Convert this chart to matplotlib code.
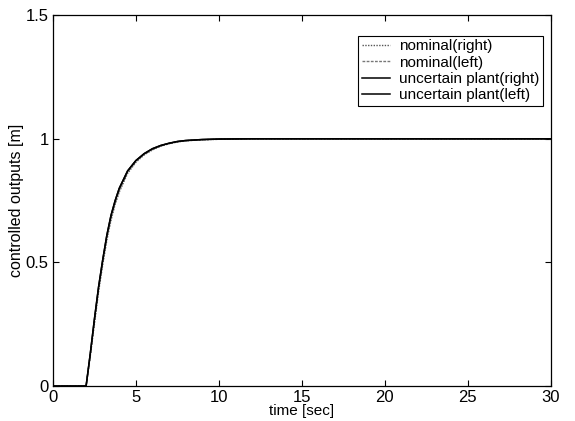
import matplotlib.pyplot as plt

plt.rcParams["font.family"] = ["Liberation Sans", "DejaVu Sans"]

# time axis [sec]
t = [0, 2.0, 2.25, 2.5, 2.75, 3.0, 3.25, 3.5, 3.75, 4.0, 4.5, 5.0, 5.5, 6.0,
     6.5, 7.0, 7.5, 8.0, 9.0, 10.0, 12.0, 15.0, 20.0, 25.0, 30.0]

nominal_right = [0, 0, 0.12, 0.25, 0.38, 0.49, 0.59, 0.67, 0.735, 0.785, 0.86,
                 0.905, 0.935, 0.955, 0.97, 0.98, 0.987, 0.992, 0.996, 0.998,
                 1.0, 1.0, 1.0, 1.0, 1.0]
nominal_left = [0, 0, 0.125, 0.26, 0.39, 0.50, 0.60, 0.68, 0.74, 0.79, 0.865,
                0.908, 0.937, 0.957, 0.971, 0.981, 0.988, 0.992, 0.996, 0.998,
                1.0, 1.0, 1.0, 1.0, 1.0]
uncertain_right = [0, 0, 0.13, 0.27, 0.40, 0.51, 0.61, 0.69, 0.75, 0.80, 0.87,
                   0.912, 0.94, 0.96, 0.973, 0.982, 0.989, 0.993, 0.997, 0.999,
                   1.0, 1.0, 1.0, 1.0, 1.0]
uncertain_left = [0, 0, 0.13, 0.27, 0.40, 0.51, 0.61, 0.69, 0.75, 0.80, 0.87,
                  0.912, 0.94, 0.96, 0.973, 0.982, 0.989, 0.993, 0.997, 0.999,
                  1.0, 1.0, 1.0, 1.0, 1.0]

xticks = [0, 5, 10, 15, 20, 25, 30]
yticks = [0, 0.5, 1, 1.5]
ytick_labels = ["0", "0.5", "1", "1.5"]

fig = plt.figure(figsize=(5.75, 4.21), dpi=100)
ax = fig.add_axes([0.092, 0.083, 0.866, 0.881])

ax.plot(t, nominal_right, color="#555555", linestyle=(0, (1, 1)), linewidth=1,
        label="nominal(right)")
ax.plot(t, nominal_left, color="#777777", linestyle=(0, (2, 1)), linewidth=1,
        label="nominal(left)")
ax.plot(t, uncertain_right, color="black", linewidth=1.1,
        label="uncertain plant(right)")
ax.plot(t, uncertain_left, color="black", linewidth=1.1,
        label="uncertain plant(left)")

ax.set_xlim(0, 30)
ax.set_ylim(0, 1.5)
ax.set_xticks(xticks)
ax.set_yticks(yticks)
ax.set_yticklabels(ytick_labels)
ax.tick_params(direction="in", top=True, right=True, length=4, width=0.8,
               labelsize=12)
ax.tick_params(axis="x", pad=3)
ax.tick_params(axis="y", pad=3)
for s in ax.spines.values():
    s.set_linewidth(0.9)

ax.set_xlabel("time [sec]", fontsize=11, labelpad=-1)
ax.set_ylabel("controlled outputs [m]", fontsize=11.5, labelpad=1)

leg = ax.legend(loc="upper right", bbox_to_anchor=(0.984, 0.945), fontsize=11,
                fancybox=False, edgecolor="black", framealpha=1,
                handlelength=1.8, handletextpad=0.6, borderpad=0.25,
                labelspacing=0.15, borderaxespad=0)
leg.get_frame().set_linewidth(0.8)

fig.savefig("out.png", dpi=100)
